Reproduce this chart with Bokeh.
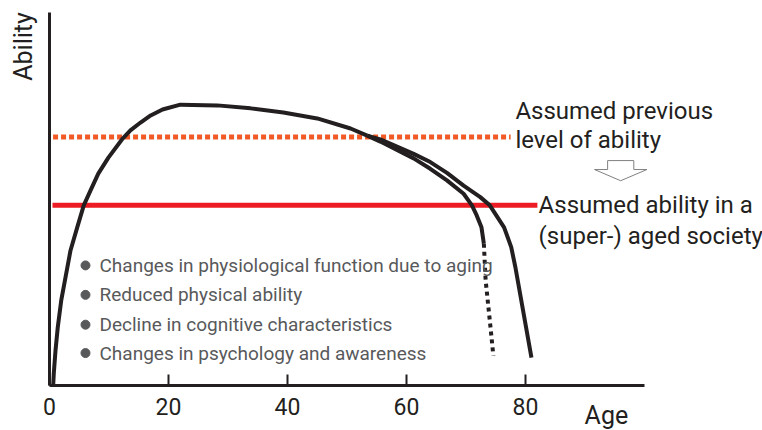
from bokeh.plotting import figure
from bokeh.models import Range1d, FixedTicker
from bokeh.embed import file_html
from bokeh.resources import INLINE
from bokeh.core.properties import value

FONT = "Roboto"
INK = "#231f20"
GRAY = "#58595b"

# ---- data ----
main_age = [0.62, 0.72, 1.01, 1.39, 1.97, 2.69, 3.53, 4.66, 5.76, 6.9, 8.2, 9.9, 12.3, 13.6,
            15.3, 17.0, 19.0, 22.0, 28.2, 33.8, 39.3, 45.0, 50.6, 53.4]
main_ability = [0, 3.2, 9.4, 15.6, 22.8, 29.0, 36.2, 42.4, 48.3, 52.3, 56.8, 61.1, 66.2, 68.4,
                70.5, 72.4, 74.0, 75.3, 75.1, 74.3, 73.2, 71.6, 68.9, 67.0]
inner_age = [53.4, 55.6, 61.2, 64.0, 66.8, 69.6, 71.0, 71.8, 72.6, 73.0]
inner_ability = [67.0, 65.4, 60.9, 58.1, 55.0, 51.4, 48.3, 45.6, 42.4, 38.0]
dotted_age = [73.0, 73.3, 74.0, 74.6]
dotted_ability = [38.0, 28.2, 17.4, 8.0]
outer_age = [53.4, 55.6, 61.2, 64.0, 66.8, 69.6, 72.4, 74.0, 76.4, 77.6, 78.3, 81.0]
outer_ability = [67.0, 66.0, 62.1, 59.9, 57.0, 53.6, 50.5, 48.3, 42.4, 37.1, 31.7, 7.5]

previous_level = 66.6
previous_span = [0.6, 77.5]
aged_level = 48.3
aged_span = [0.5, 82.0]

x_ticks = [0, 20, 40, 60, 80]

bullet_texts = ["Changes in physiological function due to aging",
                "Reduced physical ability",
                "Decline in cognitive characteristics",
                "Changes in psychology and awareness"]
bullet_y = [32.2, 24.3, 16.3, 8.7]

# ---- layout: frame fills the canvas, axes are fixed at data 0 ----
W, H = 762, 430
X0_PX, XS = 49.0, 5.95      # pixel of age 0, pixels per year
Y0_PX, YS = 385.0, 3.73     # pixel of ability 0, pixels per unit

p = figure(width=W, height=H, output_backend="svg", toolbar_location=None,
           x_range=Range1d(-X0_PX / XS, (W - X0_PX) / XS),
           y_range=Range1d(-(H - Y0_PX) / YS, Y0_PX / YS),
           min_border=0)
p.background_fill_color = "white"
p.border_fill_color = "white"
p.outline_line_color = None
p.xgrid.visible = False
p.ygrid.visible = False

p.xaxis.fixed_location = 0
p.xaxis.bounds = (0, 100)
p.xaxis.ticker = FixedTicker(ticks=x_ticks)
p.xaxis.axis_line_width = 3
p.xaxis.axis_line_color = INK
p.xaxis.major_tick_in = 11
p.xaxis.major_tick_out = 0
p.xaxis.major_tick_line_width = 2
p.xaxis.major_tick_line_color = INK
p.xaxis.minor_tick_line_color = None
p.xaxis.major_label_text_font = FONT
p.xaxis.major_label_text_font_size = "23px"
p.xaxis.major_label_text_color = INK
p.xaxis.major_label_standoff = 12

p.yaxis.fixed_location = 0
p.yaxis.bounds = (0, 100)
p.yaxis.ticker = FixedTicker(ticks=[])
p.yaxis.axis_line_width = 3
p.yaxis.axis_line_color = INK
p.yaxis.minor_tick_line_color = None
p.yaxis.major_tick_line_color = None
p.yaxis.major_label_text_font_size = "0px"

# reference levels
p.line(previous_span, [previous_level, previous_level], line_color="#f15a24",
       line_width=5, line_dash="5 3")
p.line(aged_span, [aged_level, aged_level], line_color="#ed1c24", line_width=5)

# ability curves
p.line(main_age, main_ability, line_color=INK, line_width=4, line_join="round")
p.line(inner_age, inner_ability, line_color=INK, line_width=4, line_join="round")
p.line(outer_age, outer_ability, line_color=INK, line_width=4, line_join="round")
p.line(dotted_age, dotted_ability, line_color=INK, line_width=4, line_dash="4 4")

# bullets
p.scatter([6.05] * len(bullet_y), bullet_y, size=9, color=GRAY)
p.text([8.4] * len(bullet_y), bullet_y, text=bullet_texts, text_font=value(FONT),
       text_font_size="19px", text_color=GRAY, text_baseline="middle", text_align="left")

# hollow arrow between the two labels
ax, ay = 96.0, 60.3
sw, hw, sh, hh = 2.2, 4.4, 2.4, 3.0
arrow_x = [ax - sw, ax + sw, ax + sw, ax + hw, ax, ax - hw, ax - sw]
arrow_y = [ay, ay, ay - sh, ay - sh, ay - sh - hh, ay - sh, ay - sh]
p.patch(arrow_x, arrow_y, fill_color="white", line_color="#808080", line_width=1)

def lab(x, y, t, size="24px", align="left", angle=0.0):
    p.text([x], [y], text=[t], text_font=value(FONT), text_font_size=size,
           text_color=INK, text_baseline="middle", text_align=align, angle=angle)

lab(78.3, 73.5, "Assumed previous")
lab(78.3, 65.7, "level of ability")
lab(82.2, 48.3, "Assumed ability in a")
lab(82.2, 40.0, "(super-) aged society")
lab(93.6, -8.0, "Age", size="25px", align="center")
lab(-4.4, 90.9, "Ability", size="25px", align="center", angle=1.5708)

html = file_html(p, INLINE)
open("out.html", "w").write(html)
